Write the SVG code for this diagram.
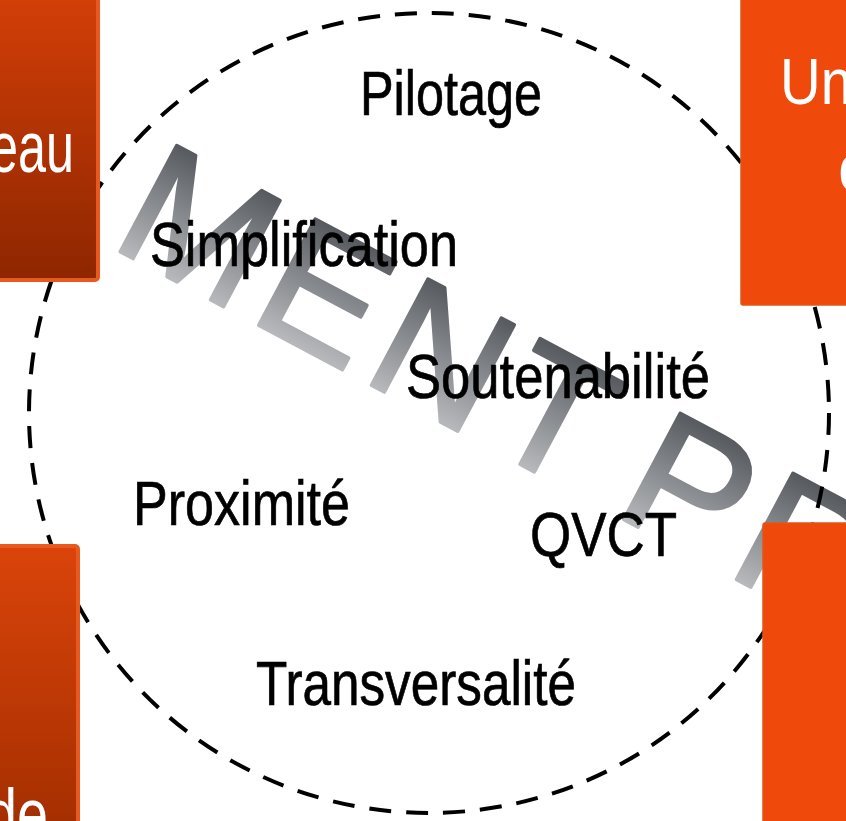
<svg xmlns="http://www.w3.org/2000/svg" width="846" height="821" viewBox="0 0 846 821">
  <defs>
    <linearGradient id="wm" gradientUnits="userSpaceOnUse" x1="0" y1="-130" x2="0" y2="0">
      <stop offset="0" stop-color="#505459"/>
      <stop offset="1" stop-color="#b6b8bb"/>
    </linearGradient>
    <linearGradient id="darkOrange" x1="0" y1="0" x2="0" y2="1">
      <stop offset="0" stop-color="#d43f08"/>
      <stop offset="1" stop-color="#8e2600"/>
    </linearGradient>
    <linearGradient id="darkOrange2" x1="0" y1="0" x2="0" y2="1">
      <stop offset="0" stop-color="#da440a"/>
      <stop offset="1" stop-color="#a32e00"/>
    </linearGradient>
    <style>
      .lbl { font-family: "Liberation Sans Narrow", "Liberation Sans", Arial, sans-serif; font-size: 63px; fill: #000; stroke: #000; stroke-width: 0.7px; }
      .box-lbl { font-family: "Liberation Sans Narrow", "Liberation Sans", Arial, sans-serif; fill: #fff; }
      .wm { font-family: "Liberation Sans", Arial, sans-serif; font-size: 175px; fill: url(#wm); stroke: url(#wm); stroke-width: 3.5px; stroke-linejoin: round; stroke-linecap: round; letter-spacing: 11px; word-spacing: -26px; }
      .ring { fill: none; stroke: #000; stroke-width: 4; stroke-dasharray: 22 15; }
      .flat { fill: #ef490b; stroke: #e0561f; stroke-width: 1.5; }
      .grad1 { fill: url(#darkOrange); stroke: #e9581f; stroke-width: 4; }
      .grad2 { fill: url(#darkOrange2); stroke: #e9581f; stroke-width: 4; }
    </style>
  </defs>
  <rect width="846" height="821" fill="#fff"/>

  <g id="watermark">
    <text class="wm" transform="translate(107.5 245) rotate(28)" x="0" y="0">MENT PR</text>
  </g>

  <g id="connectors">
    <circle class="ring" cx="429" cy="413" r="400"/>
  </g>

  <g id="pilotage"><text class="lbl" x="360" y="115" textLength="182" lengthAdjust="spacingAndGlyphs">Pilotage</text></g>
  <g id="simplification"><text class="lbl" x="150" y="266" textLength="308" lengthAdjust="spacingAndGlyphs">Simplification</text></g>
  <g id="soutenabilite"><text class="lbl" x="406" y="398" textLength="304" lengthAdjust="spacingAndGlyphs">Soutenabilité</text></g>
  <g id="proximite"><text class="lbl" x="133" y="525" textLength="217" lengthAdjust="spacingAndGlyphs">Proximité</text></g>
  <g id="qvct"><text class="lbl" x="530" y="556" textLength="147" lengthAdjust="spacingAndGlyphs">QVCT</text></g>
  <g id="transversalite"><text class="lbl" x="256" y="705" textLength="320" lengthAdjust="spacingAndGlyphs">Transversalité</text></g>

  <g id="box-top-left">
    <rect class="grad1" x="-10" y="-10" width="108" height="290" rx="3"/>
    <text class="box-lbl" x="-10" y="172" font-size="72" textLength="84" lengthAdjust="spacingAndGlyphs">eau</text>
  </g>
  <g id="box-top-right">
    <rect class="flat" x="741" y="-10" width="120" height="315" rx="2"/>
    <text class="box-lbl" x="780" y="104" font-size="65" textLength="72" lengthAdjust="spacingAndGlyphs">Un</text>
    <text class="box-lbl" x="838" y="190" font-size="65">d</text>
  </g>
  <g id="box-bottom-left">
    <rect class="grad2" x="-10" y="546" width="88" height="290" rx="3"/>
    <text class="box-lbl" x="-14" y="839" font-size="72" textLength="62" lengthAdjust="spacingAndGlyphs">de</text>
  </g>
  <g id="box-bottom-right">
    <rect class="flat" x="763" y="523" width="100" height="310" rx="2"/>
  </g>
</svg>
